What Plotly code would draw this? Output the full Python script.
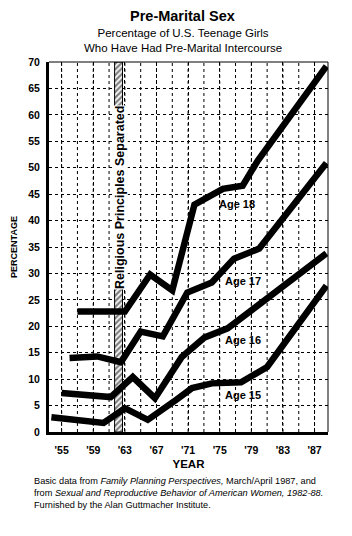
import plotly.graph_objects as go

# ---- data ----
age18_x = [1957, 1963, 1966.2, 1969, 1971.8, 1974, 1975.4, 1977.9, 1979.8, 1988.5]
age18_y = [22.8, 22.8, 29.8, 26.8, 43.0, 45.0, 46.0, 46.6, 51.3, 69.2]

age17_x = [1956, 1959.5, 1962.5, 1965, 1967.8, 1970.9, 1974, 1976.8, 1980, 1988.5]
age17_y = [14.0, 14.3, 13.2, 19.0, 18.1, 26.4, 28.3, 32.8, 34.7, 50.9]

age16_x = [1955, 1961.2, 1964, 1966.8, 1970.2, 1973.1, 1976, 1979, 1988.5]
age16_y = [7.4, 6.6, 10.4, 6.4, 14.2, 17.9, 19.6, 23.0, 33.8]

age15_x = [1953.7, 1960.3, 1963, 1965.9, 1969.4, 1971.5, 1974, 1977.7, 1981, 1988.5]
age15_y = [2.8, 1.7, 4.5, 2.3, 6.0, 8.3, 9.2, 9.4, 12.3, 27.7]

series = [("Age 18", age18_x, age18_y, 1977.2, 43.2),
          ("Age 17", age17_x, age17_y, 1977.9, 28.5),
          ("Age 16", age16_x, age16_y, 1977.9, 17.4),
          ("Age 15", age15_x, age15_y, 1977.9, 7.0)]

band_start, band_end = 1961.7, 1962.7
band_label = "Religious Principles Separated"

x_tickvals = [1955, 1959, 1963, 1967, 1971, 1975, 1979, 1983, 1987]
x_ticktext = ["'55", "'59", "'63", "'67", "'71", "'75", "'79", "'83", "'87"]
y_tickvals = list(range(0, 75, 5))
grid_years = list(range(1955, 1989, 2))

FONT = "Liberation Sans, Arial, Helvetica, sans-serif"

fig = go.Figure()

# hatched band
fig.add_trace(go.Scatter(
    x=[band_start, band_end, band_end, band_start, band_start],
    y=[0, 0, 70, 70, 0],
    fill="toself", mode="lines",
    line=dict(color="black", width=1),
    fillcolor="white",
    fillpattern=dict(shape="/", fgcolor="black", bgcolor="white", size=4, solidity=0.55),
    hoverinfo="skip", showlegend=False))

for name, xs, ys, lx, ly in series:
    fig.add_trace(go.Scatter(x=xs, y=ys, mode="lines", name=name,
                             line=dict(color="black", width=6.5),
                             showlegend=False))
    fig.add_annotation(x=lx, y=ly, text=f"<b>{name}</b>", showarrow=False,
                       font=dict(family=FONT, size=11, color="black"))

fig.add_annotation(x=(band_start + band_end) / 2 + 0.2, y=44.3, text=f"<b>{band_label}</b>",
                   textangle=-90, showarrow=False, bgcolor="white",
                   font=dict(family=FONT, size=12.5, color="black"),
                   borderpad=0)

fig.update_layout(
    width=352, height=536,
    margin=dict(l=44, r=24, t=62, b=104),
    paper_bgcolor="white", plot_bgcolor="white",
    font=dict(family=FONT, color="black"),
    xaxis=dict(range=[1953.4, 1988.7], tickvals=x_tickvals, ticktext=x_ticktext,
               tickfont=dict(family=FONT, size=10.5, color="black", weight="bold"),
               showgrid=True, gridcolor="black", griddash="dot", gridwidth=1,
               showline=True, linecolor="black", linewidth=3, mirror=False,
               zeroline=False, ticks="", ticklabelstandoff=6,
               title=dict(text="<b>YEAR</b>", font=dict(family=FONT, size=11.5), standoff=6)),
    yaxis=dict(range=[0, 70], tickvals=y_tickvals,
               tickfont=dict(family=FONT, size=10.5, color="black", weight="bold"),
               showgrid=True, gridcolor="black", griddash="dot", gridwidth=1,
               showline=True, linecolor="black", linewidth=3,
               zeroline=False, ticks="", ticklabelstandoff=4,
               title=dict(text="<b>PERCENTAGE</b>", font=dict(family=FONT, size=9), standoff=10)),
)

for yr in grid_years:
    fig.add_shape(type="line", x0=yr, x1=yr, y0=0, y1=70, xref="x", yref="y",
                  line=dict(color="black", width=1, dash="dot"), layer="below")

# thin top / right border
fig.add_shape(type="line", xref="paper", yref="paper", x0=0, x1=1, y0=1, y1=1,
              line=dict(color="black", width=1))
fig.add_shape(type="line", xref="paper", yref="paper", x0=1, x1=1, y0=0, y1=1,
              line=dict(color="black", width=1))

# titles
fig.add_annotation(xref="paper", yref="paper", x=0.48, y=1, yshift=46, yanchor="middle",
                   text="<b>Pre-Marital Sex</b>",
                   showarrow=False, font=dict(family=FONT, size=14.5, color="black"))
fig.add_annotation(xref="paper", yref="paper", x=0.48, y=1, yshift=22, yanchor="middle",
                   text="Percentage of U.S. Teenage Girls<br>Who Have Had Pre-Marital Intercourse",
                   showarrow=False, font=dict(family=FONT, size=11.5, color="black"))

# footnote
fig.add_annotation(xref="paper", yref="paper", x=0, xshift=-17, y=0, yshift=-42,
                   xanchor="left", yanchor="top", align="left",
                   text="Basic data from <i>Family Planning Perspectives,</i> March/April 1987, and<br>"
                        "from <i>Sexual and Reproductive Behavior of American Women, 1982-88.</i><br>"
                        "Furnished by the Alan Guttmacher Institute.",
                   showarrow=False, font=dict(family=FONT, size=9.2, color="black"))

fig.write_html("out.html")
